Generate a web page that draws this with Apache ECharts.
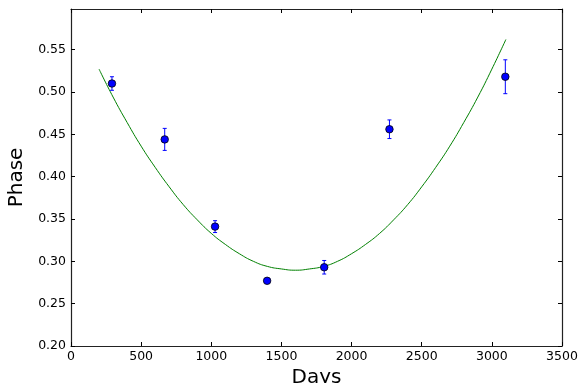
<!DOCTYPE html>
<html>
<head>
<meta charset="utf-8">
<script src="https://cdn.jsdelivr.net/npm/echarts@6/dist/echarts.min.js"></script>
<style>
html,body{margin:0;padding:0;background:#fff;}
#c{width:581px;height:383px;}
</style>
</head>
<body>
<div id="c"></div>
<script>
// Observations
const obsDays  = [292, 668, 1027, 1398, 1805, 2270, 3096];
const obsPhase = [0.510, 0.444, 0.341, 0.277, 0.293, 0.456, 0.518];
const obsErr   = [0.008, 0.013, 0.007, 0.002, 0.008, 0.011, 0.020];

// Fitted curve
const fitDays  = [200,300,400,500,600,700,800,900,1000,1100,1200,1300,1400,1500,1600,1700,1800,1900,2000,2100,2200,2300,2400,2500,2600,2700,2800,2900,3000,3100];
const fitPhase = [0.527,0.494,0.464,0.436,0.411,0.388,0.367,0.349,0.333,0.320,0.309,0.300,0.294,0.291,0.2895,0.291,0.294,0.300,0.309,0.320,0.333,0.349,0.367,0.388,0.411,0.436,0.464,0.494,0.527,0.562];

const xTitle = 'Days';
const yTitle = 'Phase';

const font = 'DejaVu Sans';
const chart = echarts.init(document.getElementById('c'));

const pts = obsDays.map((d, i) => [d, obsPhase[i]]);
const errs = obsDays.map((d, i) => [d, obsPhase[i] - obsErr[i], obsPhase[i] + obsErr[i]]);
const fit = fitDays.map((d, i) => [d, fitPhase[i]]);

const axisLineStyle = {color: '#222', width: 1.2};
chart.setOption({
  animation: false,
  backgroundColor: '#fff',
  grid: {left: 71, right: 19, top: 9, bottom: 37, containLabel: false, outerBoundsMode: 'none'},
  xAxis: [{
    type: 'value', min: 0, max: 3500, interval: 500, position: 'bottom',
    axisLine: {show: true, onZero: false, lineStyle: axisLineStyle},
    axisTick: {show: true, inside: true, length: 4, lineStyle: {color: '#000'}},
    axisLabel: {color: '#000', fontFamily: font, fontSize: 12.5, margin: 4, formatter: v => String(v)},
    splitLine: {show: false},
    name: xTitle, nameLocation: 'middle', nameGap: 22,
    nameTextStyle: {color: '#000', fontFamily: font, fontSize: 20}
  }, {
    type: 'value', min: 0, max: 3500, interval: 500, position: 'top',
    axisLine: {show: true, onZero: false, lineStyle: axisLineStyle},
    axisTick: {show: true, inside: true, length: 4, lineStyle: {color: '#000'}},
    axisLabel: {show: false}, splitLine: {show: false}
  }],
  yAxis: [{
    type: 'value', min: 0.2, max: 0.598, interval: 0.05, position: 'left',
    axisLine: {show: true, onZero: false, lineStyle: axisLineStyle},
    axisTick: {show: true, inside: true, length: 4, lineStyle: {color: '#000'}},
    axisLabel: {color: '#000', fontFamily: font, fontSize: 12.5, margin: 5, showMaxLabel: false,
      formatter: v => v > 0.56 ? '' : v.toFixed(2)},
    splitLine: {show: false},
    name: yTitle, nameLocation: 'middle', nameGap: 41, nameRotate: 90,
    nameTextStyle: {color: '#000', fontFamily: font, fontSize: 20}
  }, {
    type: 'value', min: 0.2, max: 0.598, interval: 0.05, position: 'right',
    axisLine: {show: true, onZero: false, lineStyle: axisLineStyle},
    axisTick: {show: true, inside: true, length: 4, lineStyle: {color: '#000'}},
    axisLabel: {show: false}, splitLine: {show: false}
  }],
  series: [{
    type: 'line', data: fit, smooth: true, showSymbol: false, symbol: 'none',
    lineStyle: {color: '#008000', width: 1}, z: 2
  }, {
    type: 'custom', data: errs, z: 3,
    renderItem: function (params, api) {
      const x = api.value(0);
      const lo = api.coord([x, api.value(1)]);
      const hi = api.coord([x, api.value(2)]);
      const cap = 2;
      const st = {stroke: '#0000ff', lineWidth: 1};
      return {type: 'group', children: [
        {type: 'line', shape: {x1: lo[0], y1: lo[1], x2: hi[0], y2: hi[1]}, style: st},
        {type: 'line', shape: {x1: lo[0]-cap, y1: lo[1], x2: lo[0]+cap, y2: lo[1]}, style: st},
        {type: 'line', shape: {x1: hi[0]-cap, y1: hi[1], x2: hi[0]+cap, y2: hi[1]}, style: st}
      ]};
    }
  }, {
    type: 'scatter', data: pts, symbol: 'circle', symbolSize: 7.5, z: 4,
    itemStyle: {color: '#0000ff', borderColor: '#000', borderWidth: 0.8, opacity: 1}
  }]
});
</script>
</body>
</html>
